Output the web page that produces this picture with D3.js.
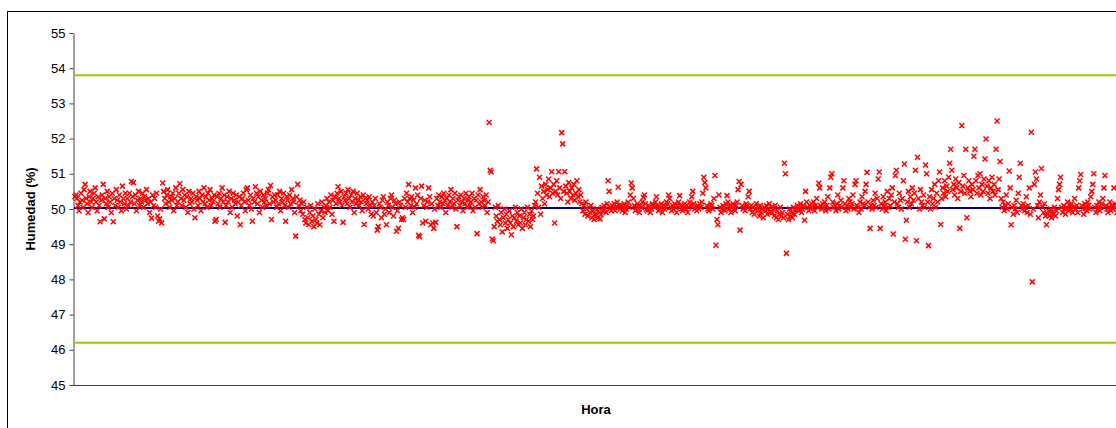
<!DOCTYPE html>
<html>
<head>
<meta charset="utf-8">
<script src="https://cdn.jsdelivr.net/npm/d3@7"></script>
<style>
  body { margin: 0; background: #fff; }
  text { font-family: "Liberation Sans", Arial, sans-serif; }
  .axis-label { font-weight: bold; font-size: 13px; fill: #000; }
</style>
</head>
<body>
<svg class="visSVG"></svg>
<script>
const svgWidth = 1116;
const svgHeight = 428;

// humedad (%), en orden de hora, por tramos
var tramo1 = [50.35,50.4,50.3,50.1,49.95,50.2,50.45,50.25,50.05,50.55,50.7,50.3,50.15,49.9,50.35,50.5,50.2,50.05,50.3,50.45,50.6,50.2,49.95,50.35,50.1,49.64,50.25,50.4,50.7,49.72,50.3,50.15,50.5,50.05,50.35,50.2,49.9,50.45,49.64,50.3,50.1,50.55,50.25,50.05,50.4,50.2,49.95,50.65,50.3,50.15,50.45,50.0];
var tramo2 = [50.3,50.1,50.45,50.2,50.78,50.35,50.75,50.15,50.4,49.95,50.25,50.5,50.1,50.3,50.2,50.45,50.05,50.35,50.25,50.55,50.15,50.3,49.9,50.2,49.74,50.4,50.1,50.3,50.05,50.45,49.8,49.65,49.72,50.0,49.6,50.74,50.5,50.3,50.15,50.4,50.55,50.2,50.05,50.35,50.25,50.45,49.95,50.3,50.6,50.1];
var tramo3 = [50.2,50.45,50.72,50.3,50.1,50.55,50.25,50.4,50.05,50.35,49.9,50.5,50.15,50.3,50.2,50.45,50.0,49.75,50.35,50.25,50.1,50.5,50.3,49.95,50.4,50.2,50.6,50.15,50.35,50.05,50.45,50.25,50.55,50.1,50.3,50.2,50.4,49.65,49.7,50.35,50.15,50.45,50.05,50.3,50.6,50.2,50.4,49.62];
var tramo4 = [50.1,50.35,50.2,50.5,49.9,50.3,50.05,50.45,50.25,50.15,50.4,49.8,50.2,50.35,49.55,50.1,50.3,50.45,50.2,49.95,50.55,50.6,50.25,50.1,50.4,50.0,49.65,50.3,50.2,50.63,50.45,50.15,50.35,49.9,50.5,50.25,50.05,50.4,50.2,50.3,50.1,50.45,50.55,50.15,50.67,49.7,50.35,50.2,50.4];
var tramo5 = [50.25,50.05,50.4,50.15,50.5,49.95,50.3,50.2,50.45,50.1,49.65,50.35,50.25,50.05,50.4,50.15,50.55,50.3,50.2,49.9,49.23,50.35,50.7,50.1,50.25,49.95,50.15,49.85,50.2,49.7,49.6,50.05,49.75,49.55,49.9,50.1,49.65,49.8,49.5,50.0,49.7,49.6,50.15,49.85,49.55,49.95,50.2,49.75,50.05,49.9];
var tramo6 = [50.1,50.3,49.95,50.2,50.05,50.4,49.85,50.25,49.65,50.35,50.15,50.45,50.63,50.3,50.2,50.5,50.1,49.62,50.35,50.25,50.45,50.15,50.55,50.3,50.05,50.4,50.2,50.5,49.9,50.3,50.15,50.45,50.25,50.1,50.35,50.2,49.95,50.4,49.56,50.3,50.15,50.25,50.0,50.35,50.1,49.85];
var tramo7 = [50.2,49.8,50.1,50.3,49.9,49.4,49.5,50.15,50.05,49.75,50.25,50.35,49.85,50.0,49.55,50.2,50.1,49.9,50.3,50.4,50.05,49.8,50.25,50.15,49.37,49.95,49.45,50.2,50.1,49.7,49.75,49.7,50.3,50.05,50.45,50.2,50.7,50.3,50.1,50.35,49.9,50.25,50.05,50.6,50.15,50.4,49.25,49.21];
var tramo8 = [50.3,50.65,49.6,50.1,50.25,49.65,50.05,50.2,50.6,50.35,49.55,50.15,49.6,49.45,50.0,49.62,50.3,50.1,50.4,50.2,50.05,50.35,50.15,50.45,50.25,49.9,50.3,50.1,50.4,50.2,50.55,50.05,50.3,50.15,50.45,50.0,49.5,50.25,50.35,50.1,50.4,50.2,49.95,50.3,50.15,50.45,50.05,50.25];
var tramo9 = [50.35,50.1,50.2,50.45,49.95,50.3,50.05,50.25,49.3,50.4,50.15,50.55,50.2,50.05,50.35,50.25,50.1,50.4,49.9,50.2,52.46,51.1,51.05,49.15,49.1,49.5,50.05,49.8,49.65,50.1,49.7,49.55,49.9,49.35,49.75,50.0,49.6,49.85,49.45,49.7,49.95,49.6,49.27,49.8,49.5,49.75,50.05,49.65,49.9,49.55];
var tramo10 = [49.8,49.6,50.0,49.45,49.75,49.9,49.55,49.7,50.05,49.65,49.85,49.5,49.95,49.7,49.8,50.1,50.2,51.14,50.45,50.05,50.9,49.85,50.65,50.3,50.5,50.15,50.7,50.4,50.55,50.85,50.35,50.6,51.06,50.45,50.7,49.6,50.5,50.8,50.4,51.06,50.6,50.3,52.17,51.85,50.5,51.06,50.65,50.45,50.2,50.75];
var tramo11 = [50.5,50.3,50.6,50.4,50.7,50.25,50.45,50.8,50.35,50.55,50.2,50.4,50.15,49.95,50.1,49.85,50.2,50.0,49.8,50.05,49.9,50.1,49.75,49.95,49.7,49.85,49.8,50.0,49.75,49.9,49.72,49.85,50.05,49.95,50.1,50.0,49.9,50.15,50.8,50.5,50.05,49.95,50.1,50.0,50.15,49.95,50.05,50.2,50.62,50.1];
var tramo12 = [50.0,50.1,49.95,50.05,50.15,49.9,50.0,50.1,50.2,50.05,50.4,50.74,50.6,50.3,50.1,49.95,50.05,50.15,50.0,49.9,50.1,50.05,50.2,50.33,50.4,50.15,50.0,49.95,50.1,50.05,49.9,50.0,50.15,50.1,50.05,50.2,50.35,50.1,49.95,50.0,50.05,50.15,49.9,50.1,50.0,50.05,50.2,50.15,50.4,50.3,50.05];
var tramo13 = [49.95,50.1,50.0,50.15,50.05,49.9,50.1,50.2,50.38,50.1,50.0,49.95,50.05,50.15,50.0,50.1,49.9,50.05,50.2,50.1,50.35,50.5,50.15,50.0,50.05,49.95,50.1,50.0,50.15,50.05,50.2,50.45,50.9,50.75,50.6,50.1,50.0,49.95,50.05,50.15,50.1,50.0,50.3,50.95,48.97,49.7,49.55,50.4,50.05,49.9];
var tramo14 = [50.0,50.1,50.05,49.95,50.15,50.38,50.2,50.0,50.1,49.9,50.05,50.15,50.0,49.95,50.1,50.2,50.55,50.78,49.4,50.7,50.1,50.0,50.05,49.95,50.15,50.1,50.35,50.5,50.0,50.1,49.9,50.05,49.85,50.0,50.15,49.95,50.05,49.8,50.1,49.9,50.0,49.75,50.05,49.95,50.1,49.85,50.0,50.15,49.9,50.05];
var tramo15 = [49.9,50.0,49.8,50.1,49.75,49.95,49.7,49.85,50.05,49.8,49.9,49.75,51.3,51.0,48.74,49.85,49.7,50.0,49.8,49.9,49.75,50.05,49.85,49.95,50.0,50.1,49.95,50.05,50.15,49.9,50.0,50.1,49.68,50.5,50.2,50.05,49.95,50.1,50.0,50.15,50.05,50.2,49.95,50.1,50.3,50.05,50.73,50.6,50.1];
var tramo16 = [50.0,50.15,50.05,50.2,49.95,50.1,50.35,50.0,50.6,50.9,51.0,50.2,50.05,50.1,49.95,50.15,50.4,50.0,50.1,50.25,50.05,50.6,50.8,50.15,49.95,50.1,50.0,50.3,50.2,50.05,50.15,50.4,50.0,50.7,50.8,50.1,50.05,49.9,50.2,50.0,50.35,50.15,50.1,50.5,50.7,51.04,50.2,50.05,49.45,50.1];
var tramo17 = [50.0,50.25,50.1,50.45,50.05,50.3,50.85,51.05,49.45,50.15,50.0,50.35,50.1,50.2,49.95,50.5,50.05,50.3,50.1,50.4,50.6,49.29,50.2,50.95,51.1,50.15,50.05,50.45,50.25,50.0,50.3,50.8,51.28,49.14,49.68,50.2,50.5,50.05,50.35,50.15,50.6,50.25,50.45,51.1,49.1,51.47,50.3,50.0,50.55,50.2];
var tramo18 = [50.1,50.4,50.05,51.25,51.0,50.2,48.96,50.35,50.0,50.55,50.15,50.3,50.7,50.05,50.45,50.2,50.8,51.05,49.56,50.3,50.6,50.45,50.8,50.35,50.65,50.5,50.9,51.3,51.7,51.1,50.55,50.7,50.4,50.85,50.6,50.3,50.75,49.45,50.5,52.37,50.65,50.95,50.45,51.7,49.75,50.6,50.8,50.5,50.35,50.7];
var tramo19 = [50.55,51.5,51.7,50.8,50.45,50.95,50.6,51.0,50.4,50.7,50.5,50.85,51.42,51.99,50.65,50.45,50.8,50.3,50.6,50.9,50.5,50.7,50.4,51.7,52.5,50.55,50.85,51.35,50.3,50.05,50.2,49.95,50.1,50.4,50.0,50.15,51.08,50.6,49.55,50.05,49.85,50.1,50.0,50.25,49.9,50.45,50.9,51.3,50.1,50.0];
var tramo20 = [50.15,49.95,50.05,50.35,49.9,50.1,50.6,49.85,52.18,47.93,50.0,50.7,51.05,50.85,50.1,49.75,50.2,50.4,51.15,50.05,49.9,50.15,49.8,49.55,49.85,49.95,49.8,50.0,49.75,49.9,49.85,50.05,49.8,49.95,50.3,50.55,50.7,50.9,50.05,49.9,50.1,50.0,49.85,50.05,50.2,49.95,50.1,50.0,50.15,49.9,50.05,50.3];
var tramo21 = [50.0,50.1,49.9,50.6,50.8,50.98,50.1,50.0,49.85,50.15,50.05,49.95,50.2,50.1,50.0,50.35,50.5,50.7,51.0,50.05,49.9,50.1,50.0,50.2,49.95,50.05,50.15,50.3,50.6,50.95,50.1,50.0,49.9,50.05,50.2,49.95,50.1,50.0,50.6,50.15,50.05,49.9];

var media = 50.03;               // linea de promedio
var limites = [53.8, 46.2];      // limites superior e inferior
var yTicks = [45, 46, 47, 48, 49, 50, 51, 52, 53, 54, 55];

var humedad = [].concat(tramo1, tramo2, tramo3, tramo4, tramo5, tramo6, tramo7,
    tramo8, tramo9, tramo10, tramo11, tramo12, tramo13, tramo14, tramo15,
    tramo16, tramo17, tramo18, tramo19, tramo20, tramo21);

const svg = d3.select('.visSVG')
    .attr("width", svgWidth)
    .attr("height", svgHeight);

var margin = { top: 33, left: 73, bottom: 43 };
var plotRight = 1117;

// marco exterior
svg.append("rect")
    .attr("x", 7.5)
    .attr("y", 11.5)
    .attr("width", 1130)
    .attr("height", 440)
    .attr("fill", "none")
    .attr("stroke", "#000")
    .attr("stroke-width", 1);

const yScale = d3.scaleLinear()
    .domain([45, 55])
    .range([svgHeight - margin.bottom, margin.top]);

const xScale = d3.scaleLinear()
    .domain([0, humedad.length - 1])
    .range([margin.left + 2, plotRight]);

// eje Y
var yAxis = svg.append("g")
    .attr("transform", "translate(" + (margin.left + 0.5) + ",0)")
    .call(d3.axisLeft(yScale).tickValues(yTicks).tickSize(4).tickSizeOuter(0).tickPadding(4));
yAxis.select(".domain").attr("stroke", "#404040");
yAxis.selectAll(".tick line").attr("stroke", "#404040");
yAxis.selectAll(".tick text")
    .attr("fill", "#000")
    .style("font-size", "13px");

svg.append("text")
    .attr("class", "axis-label")
    .attr("transform", "rotate(-90)")
    .attr("x", -yScale(50))
    .attr("y", 35)
    .attr("text-anchor", "middle")
    .text("Humedad (%)");

// eje X (sin marcas)
svg.append("line")
    .attr("x1", margin.left)
    .attr("x2", svgWidth + 5)
    .attr("y1", yScale(45) + 0.5)
    .attr("y2", yScale(45) + 0.5)
    .attr("stroke", "#404040");

svg.append("text")
    .attr("class", "axis-label")
    .attr("x", 596)
    .attr("y", 414)
    .attr("text-anchor", "middle")
    .text("Hora");

// limites
svg.append("g")
    .selectAll("line")
    .data(limites).enter().append("line")
        .attr("x1", margin.left + 1)
        .attr("x2", svgWidth + 5)
        .attr("y1", function(d) { return yScale(d); })
        .attr("y2", function(d) { return yScale(d); })
        .attr("stroke", "#99CC00")
        .attr("stroke-width", 2);

// promedio
svg.append("line")
    .attr("x1", margin.left + 1)
    .attr("x2", svgWidth + 5)
    .attr("y1", yScale(media))
    .attr("y2", yScale(media))
    .attr("stroke", "#000080")
    .attr("stroke-width", 2);

// puntos (marcador x)
var s = 2.5;
svg.append("g")
    .selectAll("path")
    .data(humedad).enter().append("path")
        .attr("d", function(d, i) {
            var x = xScale(i), y = yScale(d);
            return "M" + (x - s) + "," + (y - s) + "L" + (x + s) + "," + (y + s) +
                   "M" + (x - s) + "," + (y + s) + "L" + (x + s) + "," + (y - s);
        })
        .attr("stroke", "#FF0000")
        .attr("stroke-width", 1.5)
        .attr("fill", "none");
</script>
</body>
</html>
